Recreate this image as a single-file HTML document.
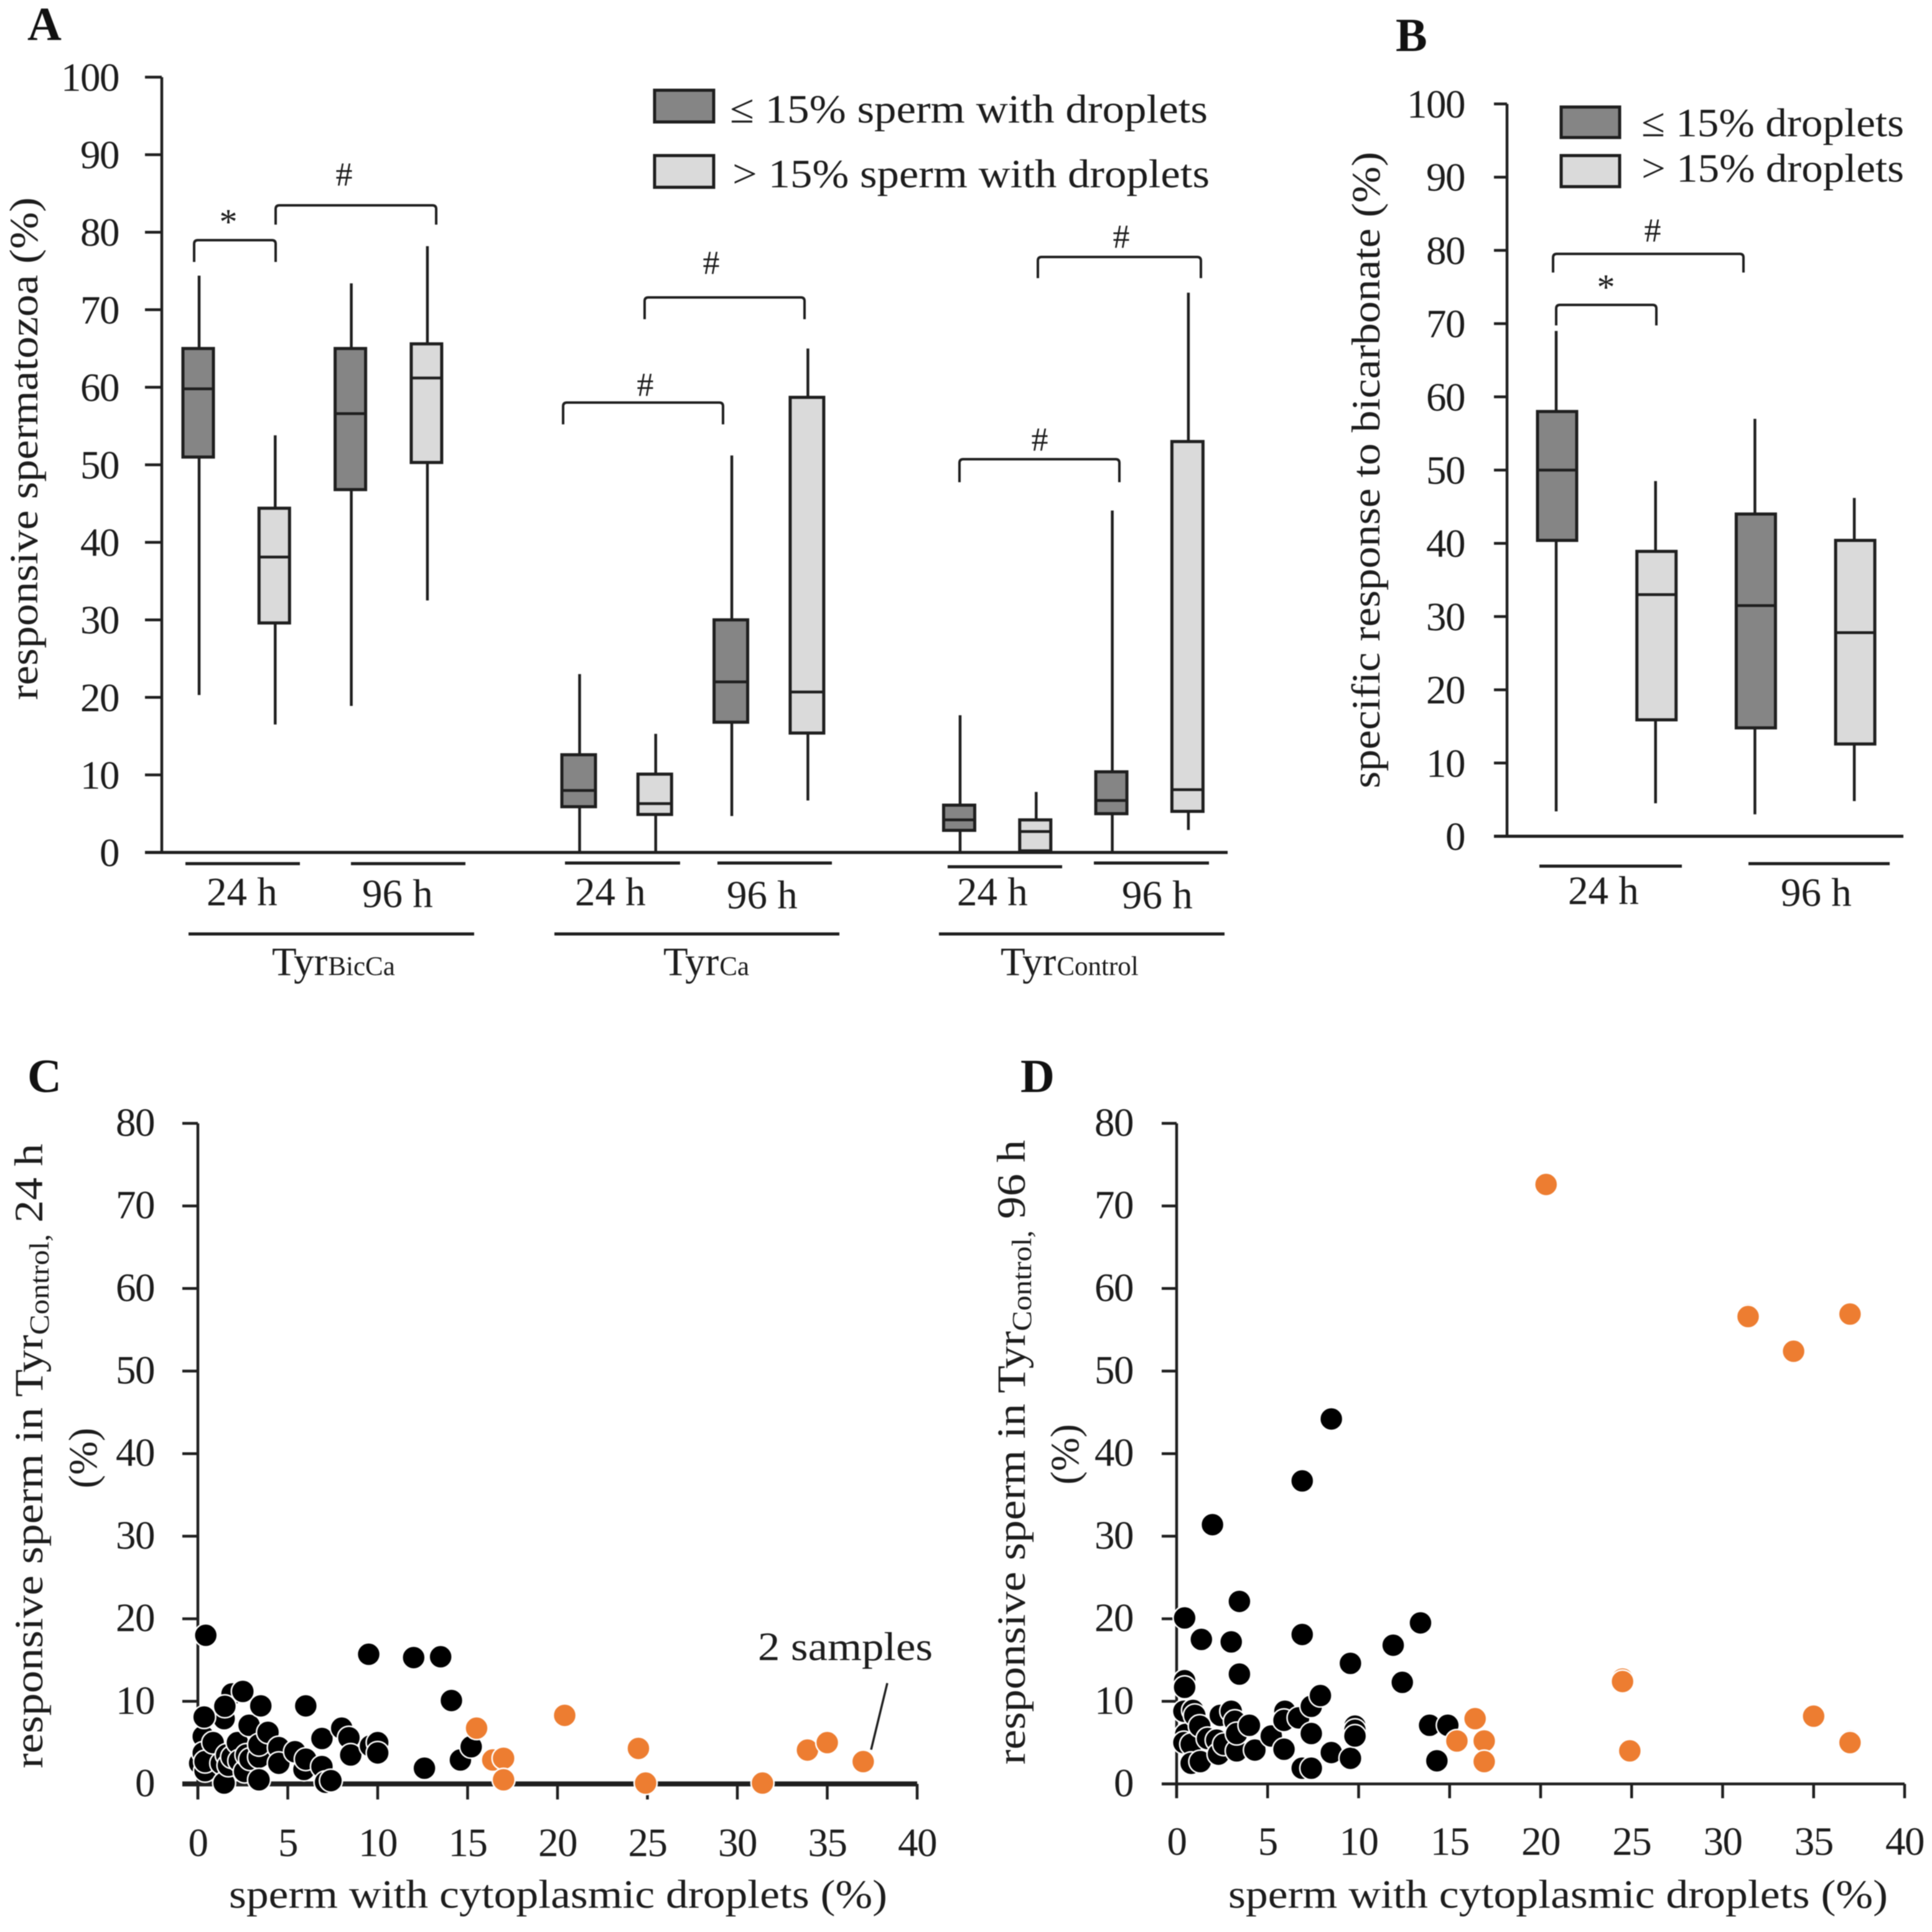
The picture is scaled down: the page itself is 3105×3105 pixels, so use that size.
<!DOCTYPE html>
<html lang="en">
<head>
<meta charset="utf-8">
<title>Sperm responsiveness charts</title>
<style>
html,body{margin:0;padding:0;background:#fff;width:3105px;height:3105px;overflow:hidden}
svg{display:block;filter:blur(.9px)}
text{font-family:"Liberation Serif",serif;fill:#1c1c1c;font-size:65px}
.bold{font-weight:bold;font-size:76px;fill:#111}
.tick{letter-spacing:-1.5px}
</style>
</head>
<body>
<svg id="root" xmlns="http://www.w3.org/2000/svg" width="3105" height="3105" viewBox="0 0 3105 3105">
<rect x="0" y="0" width="3105" height="3105" fill="#fff"/>
<g id="chart-layer"></g>

<text class="bold" x="44" y="64">A</text>
<text class="bold" x="2243" y="82">B</text>
<text class="bold" x="44" y="1755">C</text>
<text class="bold" x="1640" y="1755">D</text>

<text transform="translate(60,1125) rotate(-90)" textLength="808" lengthAdjust="spacingAndGlyphs">responsive spermatozoa (%)</text>
<text transform="translate(2217,1267) rotate(-90)" textLength="1023" lengthAdjust="spacingAndGlyphs">specific response to bicarbonate (%)</text>

<text x="1173" y="197" textLength="768" lengthAdjust="spacingAndGlyphs">≤ 15% sperm with droplets</text>
<text x="1177" y="301" textLength="767" lengthAdjust="spacingAndGlyphs">&gt; 15% sperm with droplets</text>
<text x="2638" y="219" textLength="422" lengthAdjust="spacingAndGlyphs">≤ 15% droplets</text>
<text x="2638" y="292" textLength="422" lengthAdjust="spacingAndGlyphs">&gt; 15% droplets</text>

<text x="332" y="1455">24 h</text>
<text x="582" y="1458">96 h</text>
<text x="924" y="1455">24 h</text>
<text x="1168" y="1460">96 h</text>
<text x="1538" y="1455">24 h</text>
<text x="1803" y="1460">96 h</text>
<text x="2520" y="1453">24 h</text>
<text x="2862" y="1456">96 h</text>

<text x="437" y="1567">Tyr<tspan font-size="43" dx="1" style="font-size:43px">BicCa</tspan></text>
<text x="1066" y="1567">Tyr<tspan font-size="43" dx="1" style="font-size:43px">Ca</tspan></text>
<text x="1608" y="1567">Tyr<tspan font-size="43" dx="1" style="font-size:43px">Control</tspan></text>

<text transform="translate(68,2842) rotate(-90)" textLength="1004" lengthAdjust="spacingAndGlyphs">responsive sperm in Tyr<tspan dy="10" style="font-size:44px">Control,</tspan><tspan dy="-10"> 24 h</tspan></text>
<text transform="translate(155,2392) rotate(-90)">(%)</text>
<text transform="translate(1647,2836) rotate(-90)" textLength="1004" lengthAdjust="spacingAndGlyphs">responsive sperm in Tyr<tspan dy="10" style="font-size:44px">Control,</tspan><tspan dy="-10"> 96 h</tspan></text>
<text transform="translate(1733,2386) rotate(-90)">(%)</text>

<text x="368" y="3066" textLength="1058" lengthAdjust="spacingAndGlyphs">sperm with cytoplasmic droplets (%)</text>
<text x="1974" y="3066" textLength="1060" lengthAdjust="spacingAndGlyphs">sperm with cytoplasmic droplets (%)</text>

<text x="1218" y="2668" textLength="281" lengthAdjust="spacingAndGlyphs">2 samples</text>
</svg>

<script>
// Panel A box plot values
const aWhiskerHigh = [74.4, 53.8, 73.4, 78.2, 23, 15.3, 51.2, 65, 17.7, 7.8, 44.1, 72.2];
const aQ3 = [65, 44.4, 65, 65.6, 12.6, 10.1, 30, 58.7, 6.1, 4.2, 10.4, 53];
const aMedian = [59.8, 38.1, 56.6, 61.2, 8, 6.3, 22, 20.7, 4.2, 2.7, 6.7, 8.1];
const aQ1 = [51, 29.6, 46.8, 50.3, 5.9, 4.9, 16.8, 15.4, 2.85, 0.2, 5, 5.3];
const aWhiskerLow = [20.3, 16.5, 18.9, 32.5, 0, 0, 4.7, 6.7, 0, 0, 0, 2.9];
const aKinds = ['low', 'high', 'low', 'high', 'low', 'high', 'low', 'high', 'low', 'high', 'low', 'high'];

// Panel B box plot values
const bWhiskerHigh = [69, 48.5, 57, 46.2];
const bQ3 = [58, 38.9, 44, 40.4];
const bMedian = [50, 33, 31.5, 27.8];
const bQ1 = [40.4, 15.9, 14.8, 12.6];
const bWhiskerLow = [3.4, 4.5, 3, 4.8];
const bKinds = ['low', 'high', 'low', 'high'];

// Tick labels
const boxTicks = [0, 10, 20, 30, 40, 50, 60, 70, 80, 90, 100];
const scatterYTicks = [0, 10, 20, 30, 40, 50, 60, 70, 80];
const scatterXTicks = [0, 5, 10, 15, 20, 25, 30, 35, 40];

// Panel C scatter values
const cBlackX = [0.3, 0.1, 0.3, 0.4, 0.4, 0.85, 1.3, 1.46, 1.46, 1.6, 1.7, 1.9, 1.9, 1.5, 2.2, 2.3, 2.5, 2.6, 2.7, 2.9, 2.85, 3.4, 3.4, 3.5, 3.9, 3.4, 4.5, 4.5, 5.4, 5.9, 6, 6, 6.9, 6.9, 7.1, 7.4, 8, 8.4, 8.5, 9.6, 10, 10, 9.5, 12, 13.5, 14.1, 12.6, 14.6, 15.2, 0.35, 0.44];
const cBlackY = [5.75, 2.5, 3.75, 1.6, 2.7, 5, 2.5, 7.9, 0.1, 3.5, 2.25, 3.25, 10.9, 9.4, 5, 2.8, 11.2, 1.5, 3.5, 3, 7.1, 3.25, 4.75, 9.45, 6.25, 0.5, 4.4, 2.5, 3.9, 1.75, 3, 9.45, 5.5, 2.1, 0.2, 0.4, 6.75, 5.6, 3.5, 4.6, 5, 3.75, 15.7, 15.3, 15.4, 10.1, 1.9, 2.9, 4.5, 8.1, 18];
const cOrangeX = [15.5, 16.4, 17, 17, 20.4, 24.5, 24.9, 31.4, 33.9, 35, 37];
const cOrangeY = [6.75, 2.9, 3.1, 0.5, 8.3, 4.3, 0.1, 0.1, 4.1, 5, 2.7];

// Panel D scatter values
const dBlackX = [6.9, 8.5, 1.97, 3.45, 0.44, 1.36, 3, 6.9, 13.4, 11.9, 9.55, 12.4, 3.45, 0.44, 0.44, 0.4, 0.5, 0.4, 0.8, 0.9, 1, 0.8, 1.27, 1.3, 1.7, 2.2, 2.3, 2.6, 2.4, 3, 3.3, 3.2, 3.3, 4, 4.3, 5.2, 5.95, 5.9, 5.9, 6.7, 6.9, 7.4, 7.4, 7.4, 7.9, 8.5, 9.55, 9.8, 9.8, 9.8, 13.9, 14.9, 14.3];
const dBlackY = [36.7, 44.2, 31.4, 22.1, 20.1, 17.5, 17.2, 18.1, 19.5, 16.8, 14.6, 12.3, 13.3, 12.5, 11.7, 8.8, 6, 5, 4.8, 8.9, 8.3, 2.5, 7, 2.7, 5.5, 5.3, 3.6, 4.8, 8.3, 8.8, 4, 7.6, 6.1, 7.1, 4.1, 5.8, 8.8, 7.7, 4.2, 8, 1.9, 9.4, 1.9, 6.1, 10.7, 3.8, 3.1, 7, 6.5, 5.8, 7.1, 7.1, 2.8];
const dOrangeX = [16.4, 15.4, 16.9, 16.9, 20.3, 24.5, 24.5, 24.9, 31.4, 31.4, 33.9, 37, 35, 37, 37];
const dOrangeY = [7.9, 5.2, 5.2, 2.7, 72.6, 12.7, 12.4, 4, 56.8, 56.6, 52.4, 56.9, 8.2, 5.2, 5];

// Axis functions
function yA(v) { return 1370 - 12.46 * v; }
function xA(i) { return 320 + 122.3 * (i + Math.floor(i / 4)); }
function yB(v) { return 1344 - 11.77 * v; }
function xB(i) { return 2501 + 159.7 * i; }
function yS(v) { return 2867 - 13.27 * v; }
function xC(v) { return 318 + 28.9 * v; }
function xD(v) { return 1891 + 29.25 * v; }

const layer = document.getElementById('chart-layer');
const NS = 'http://www.w3.org/2000/svg';
const STROKE = '#1f1f1f';

function line(x1, y1, x2, y2, w, name) {
  const el = document.createElementNS(NS, 'line');
  el.setAttribute('x1', x1);
  el.setAttribute('y1', y1);
  el.setAttribute('x2', x2);
  el.setAttribute('y2', y2);
  el.setAttribute('stroke', STROKE);
  el.setAttribute('stroke-width', w);
  
  
  layer.appendChild(el);
  return el;
}

function rect(x, y, w, h, fill, name) {
  const el = document.createElementNS(NS, 'rect');
  el.setAttribute('x', x);
  el.setAttribute('y', y);
  el.setAttribute('width', w);
  el.setAttribute('height', h);
  el.setAttribute('fill', fill);
  el.setAttribute('stroke', STROKE);
  el.setAttribute('stroke-width', 5);
  
  
  layer.appendChild(el);
  return el;
}

function label(x, y, str, anchor, name) {
  const el = document.createElementNS(NS, 'text');
  el.setAttribute('x', x);
  el.setAttribute('y', y);
  el.setAttribute('text-anchor', anchor);
  el.setAttribute('class', 'tick');
  el.textContent = str;
  
  
  layer.appendChild(el);
  return el;
}

function sigMark(x, y, str, name) {
  const el = document.createElementNS(NS, 'text');
  el.setAttribute('x', x);
  el.setAttribute('y', y);
  el.setAttribute('text-anchor', 'middle');
  el.style.fontSize = str === '*' ? '58px' : '54px';
  el.textContent = str;
  
  
  layer.appendChild(el);
  return el;
}

function bracket(x1, x2, top, bottom, name) {
  const el = document.createElementNS(NS, 'path');
  el.setAttribute('d', 'M' + x1 + ' ' + bottom + ' V' + (top + 6) + ' Q' + x1 + ' ' + top + ' ' + (x1 + 6) + ' ' + top + ' H' + (x2 - 6) + ' Q' + x2 + ' ' + top + ' ' + x2 + ' ' + (top + 6) + ' V' + bottom);
  el.setAttribute('fill', 'none');
  el.setAttribute('stroke', STROKE);
  el.setAttribute('stroke-width', 4);
  
  
  layer.appendChild(el);
  return el;
}

function drawBox(cx, width, offset, yFn, hi, q3, med, q1, lo, kind, name) {
  line(cx, yFn(hi), cx, yFn(q3), 4.5, name + '-upper-whisker');
  line(cx, yFn(q1), cx, yFn(lo), 4.5, name + '-lower-whisker');
  const left = cx + offset - width / 2;
  rect(left, yFn(q3), width, yFn(q1) - yFn(q3), kind === 'low' ? '#858585' : '#dadada', name + '-box');
  line(left, yFn(med), left + width, yFn(med), 4.5, name + '-median');
}

function dot(x, y, fill, name) {
  const el = document.createElementNS(NS, 'circle');
  el.setAttribute('cx', x);
  el.setAttribute('cy', y);
  el.setAttribute('r', 18.5);
  el.setAttribute('fill', fill);
  el.setAttribute('stroke', '#fff');
  el.setAttribute('stroke-width', 2.5);
  
  
  layer.appendChild(el);
  return el;
}

/* Panel A */
line(260, yA(100), 260, yA(0), 4.5, 'panel-a-y-axis');
line(233, yA(0), 1973, yA(0), 5, 'panel-a-x-axis');
boxTicks.forEach(function (t) {
  line(233, yA(t), 260, yA(t), 4.5, 'panel-a-y-tick-' + t);
  label(191, yA(t) + 22, String(t), 'end', 'panel-a-y-tick-label-' + t);
});
const aWidths = [49, 54, 50];
aMedian.forEach(function (m, i) {
  const group = Math.floor(i / 4);
  drawBox(xA(i), aWidths[group], -1.5, yA, aWhiskerHigh[i], aQ3[i], m, aQ1[i], aWhiskerLow[i], aKinds[i], 'panel-a-series-' + i);
});
line(298, 1388, 482, 1388, 5, 'a-bicca-24h-underline');
line(564, 1388, 748, 1388, 5, 'a-bicca-96h-underline');
line(908, 1387, 1093, 1387, 5, 'a-ca-24h-underline');
line(1153, 1387, 1337, 1387, 5, 'a-ca-96h-underline');
line(1523, 1393, 1707, 1393, 5, 'a-control-24h-underline');
line(1758, 1387, 1943, 1387, 5, 'a-control-96h-underline');
line(303, 1501, 762, 1501, 5, 'a-group-bicca-underline');
line(891, 1501, 1349, 1501, 5, 'a-group-ca-underline');
line(1509, 1501, 1968, 1501, 5, 'a-group-control-underline');
bracket(312, 443, 386, 421, 'a-bracket-star');
sigMark(367, 376, '*', 'a-star-mark');
bracket(443, 701, 330, 361, 'a-bracket-hash-1');
sigMark(553, 298, '#', 'a-hash-mark-1');
bracket(905, 1162, 647, 682, 'a-bracket-hash-2');
sigMark(1037, 636, '#', 'a-hash-mark-2');
bracket(1036, 1293, 478, 513, 'a-bracket-hash-3');
sigMark(1143, 440, '#', 'a-hash-mark-3');
bracket(1542, 1799, 738, 775, 'a-bracket-hash-4');
sigMark(1671, 724, '#', 'a-hash-mark-4');
bracket(1668, 1930, 413, 447, 'a-bracket-hash-5');
sigMark(1802, 398, '#', 'a-hash-mark-5');
rect(1052, 145, 95, 51, '#858585', 'panel-a-legend-low-swatch');
rect(1052, 250, 95, 51, '#dadada', 'panel-a-legend-high-swatch');

/* Panel B */
line(2422, yB(100), 2422, yB(0), 4.5, 'panel-b-y-axis');
line(2401, yB(0), 3059, yB(0), 5, 'panel-b-x-axis');
boxTicks.forEach(function (t) {
  line(2401, yB(t), 2422, yB(t), 4.5, 'panel-b-y-tick-' + t);
  label(2354, yB(t) + 22, String(t), 'end', 'panel-b-y-tick-label-' + t);
});
bMedian.forEach(function (m, i) {
  drawBox(xB(i), 63, 1.5, yB, bWhiskerHigh[i], bQ3[i], m, bQ1[i], bWhiskerLow[i], bKinds[i], 'panel-b-series-' + i);
});
line(2474, 1392, 2703, 1392, 5, 'b-24h-underline');
line(2810, 1388, 3037, 1388, 5, 'b-96h-underline');
bracket(2496, 2802, 408, 438, 'b-bracket-hash');
sigMark(2656, 388, '#', 'b-hash-mark');
bracket(2501, 2662, 490, 523, 'b-bracket-star');
sigMark(2581, 481, '*', 'b-star-mark');
rect(2509, 172, 94, 49, '#858585', 'panel-b-legend-low-swatch');
rect(2509, 250, 94, 50, '#dadada', 'panel-b-legend-high-swatch');

/* Panel C */
line(318, yS(80), 318, yS(0) + 25, 4.5, 'panel-c-y-axis');
line(293, yS(0), xC(40), yS(0), 8, 'panel-c-x-axis');
scatterYTicks.forEach(function (t) {
  line(293, yS(t), 318, yS(t), 4.5, 'panel-c-y-tick-' + t);
  label(248, yS(t) + 20, String(t), 'end', 'panel-c-y-tick-label-' + t);
});
scatterXTicks.forEach(function (t) {
  line(xC(t), yS(0), xC(t), yS(0) + 25, 4.5, 'panel-c-x-tick-' + t);
  label(xC(t), 2983, String(t), 'middle', 'panel-c-x-tick-label-' + t);
});
cBlackX.forEach(function (x, i) {
  dot(xC(x), yS(cBlackY[i]), '#000', 'panel-c-black-point-' + i);
});
cOrangeX.forEach(function (x, i) {
  dot(xC(x), yS(cOrangeY[i]), '#ed7d31', 'panel-c-orange-point-' + i);
});
line(1426, 2705, 1400, 2812, 3.5, 'two-samples-leader-line');

/* Panel D */
line(1891, yS(80), 1891, yS(0) + 23, 4.5, 'panel-d-y-axis');
line(1867, yS(0), xD(40), yS(0), 4.5, 'panel-d-x-axis');
scatterYTicks.forEach(function (t) {
  line(1867, yS(t), 1891, yS(t), 4.5, 'panel-d-y-tick-' + t);
  label(1821, yS(t) + 20, String(t), 'end', 'panel-d-y-tick-label-' + t);
});
scatterXTicks.forEach(function (t) {
  line(xD(t), yS(0), xD(t), yS(0) + 23, 4.5, 'panel-d-x-tick-' + t);
  label(xD(t), 2981, String(t), 'middle', 'panel-d-x-tick-label-' + t);
});
dBlackX.forEach(function (x, i) {
  dot(xD(x), yS(dBlackY[i]), '#000', 'panel-d-black-point-' + i);
});
dOrangeX.forEach(function (x, i) {
  dot(xD(x), yS(dOrangeY[i]), '#ed7d31', 'panel-d-orange-point-' + i);
});
</script>
</body>
</html>
